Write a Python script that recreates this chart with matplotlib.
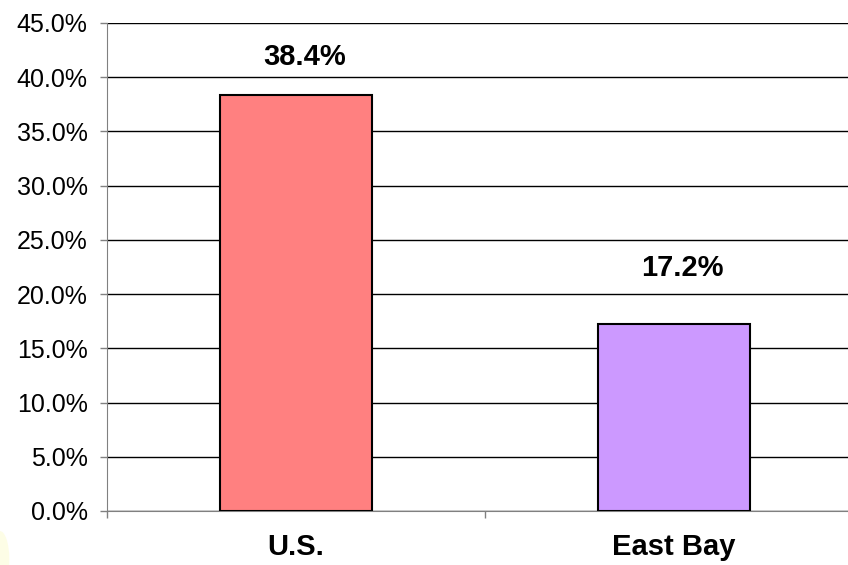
import matplotlib
matplotlib.use("Agg")
import matplotlib.pyplot as plt
from matplotlib.patches import Ellipse

plt.rcParams["font.family"] = ["Liberation Sans", "DejaVu Sans"]

# 数据
regions = ["U.S.", "East Bay"]
shares = [38.4, 17.2]
bar_colors = ["#FF8080", "#CC99FF"]
y_ticks = [0, 5, 10, 15, 20, 25, 30, 35, 40, 45]
label_offsets = [27, 41]  # 数值标签离柱顶的距离(pt)

fig = plt.figure(figsize=(8.48, 5.65), dpi=100)
ax = fig.add_axes([0.1262, 0.0956, 0.8915, 0.8637])

x = list(range(len(regions)))
ax.bar(x, shares, width=0.40, color=bar_colors, edgecolor="black", linewidth=1.5, zorder=3)

for xi, v, off in zip(x, shares, label_offsets):
    ax.annotate(f"{v:.1f}%", xy=(xi, v), xytext=(6, off), textcoords="offset points",
                ha="center", va="center", fontsize=21, fontweight="bold")

ax.set_xlim(-0.5, 1.5)
ax.set_ylim(0, 45)
ax.set_yticks(y_ticks)
ax.set_yticklabels([f"{t:.1f}%" for t in y_ticks], fontsize=18)
ax.yaxis.grid(True, color="black", linewidth=1.0, zorder=0)
ax.tick_params(axis="y", length=5, width=1, color="#808080", pad=9)

# 分类刻度放在柱子之间，标签放在柱子中心
ax.set_xticks([-0.5, 0.5, 1.5])
ax.set_xticklabels([])
ax.set_xticks(x, minor=True)
ax.set_xticklabels(regions, minor=True, fontsize=21, fontweight="bold")
ax.tick_params(axis="x", which="major", length=5, width=1, color="#808080")
ax.tick_params(axis="x", which="minor", length=0, pad=16)

for side in ["top", "right"]:
    ax.spines[side].set_visible(False)
ax.spines["left"].set_color("#808080")
ax.spines["bottom"].set_color("#808080")

# 左下角的淡黄色
fig.patches.append(Ellipse((0.0, 0.01), 0.022, 0.10, transform=fig.transFigure,
                           facecolor="#FDFDE6", edgecolor="none", zorder=-1))

fig.savefig("out.png", dpi=100)
